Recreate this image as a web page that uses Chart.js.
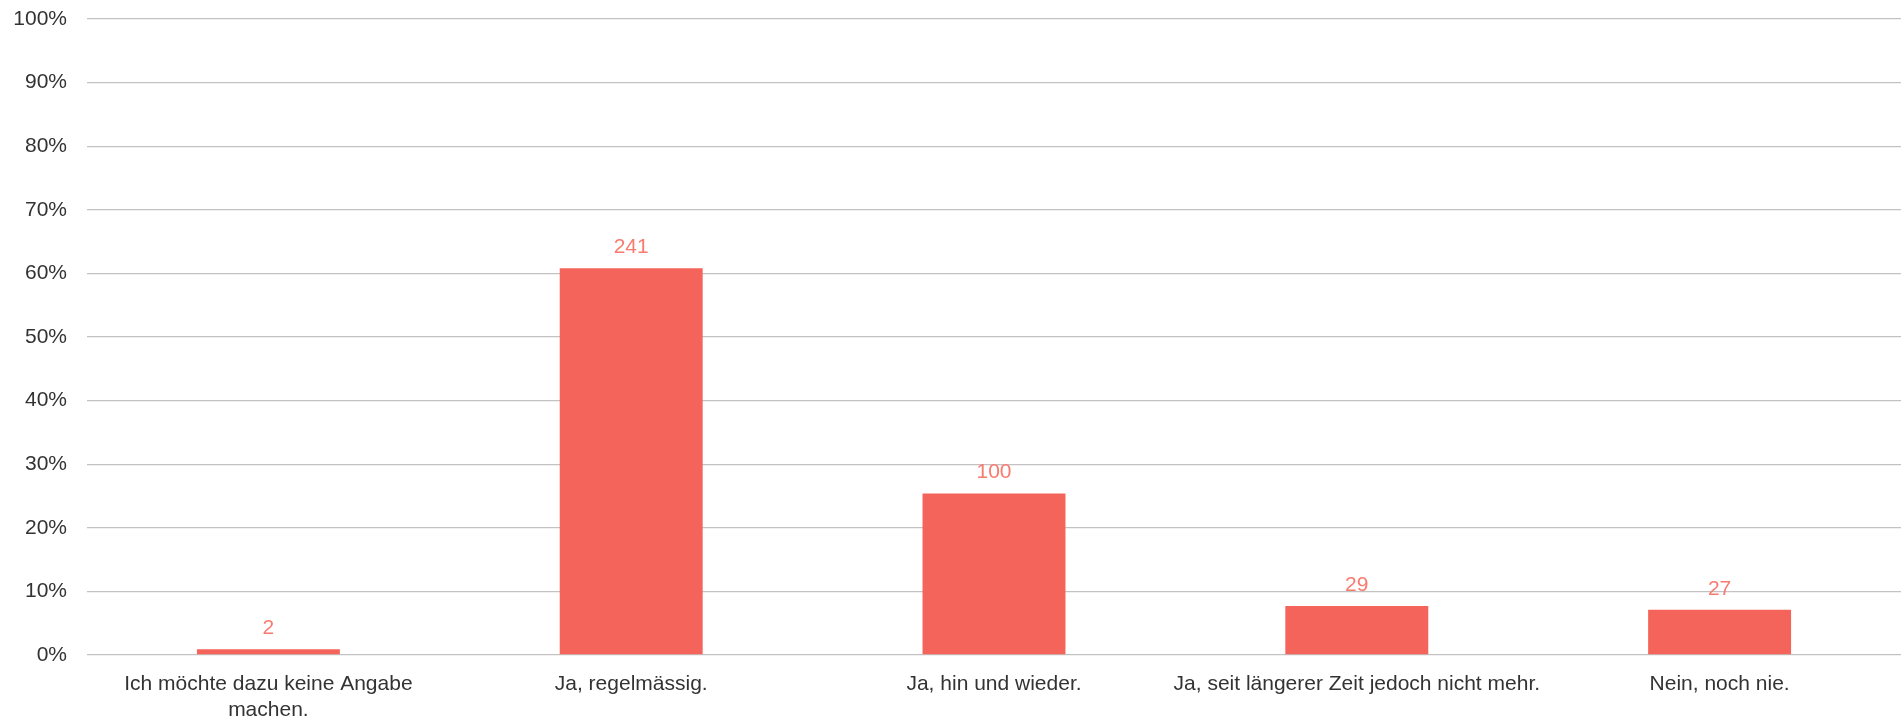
<!DOCTYPE html>
<html>
<head>
<meta charset="utf-8">
<script src="https://cdn.jsdelivr.net/npm/chart.js@4"></script>
<style>
html,body{margin:0;padding:0;background:#fff;}
#wrap{width:1901px;height:718px;}
</style>
</head>
<body>
<div id="wrap"><canvas id="c" width="1901" height="718"></canvas></div>
<script>
const categories = [
  ["Ich möchte dazu keine Angabe", "machen."],
  "Ja, regelmässig.",
  "Ja, hin und wieder.",
  "Ja, seit längerer Zeit jedoch nicht mehr.",
  "Nein, noch nie."
];
const percentValues = [0.9, 60.8, 25.4, 7.7, 7.1];
const countLabels = [2, 241, 100, 29, 27];
const yTickValues = [0, 10, 20, 30, 40, 50, 60, 70, 80, 90, 100];

const FONT = "'Liberation Sans', Arial, Helvetica, sans-serif";

const valueLabelPlugin = {
  id: 'valueLabels',
  afterDatasetsDraw(chart) {
    const ctx = chart.ctx;
    const meta = chart.getDatasetMeta(0);
    ctx.save();
    ctx.font = "21px " + FONT;
    ctx.fillStyle = "#f87b70";
    ctx.textAlign = "center";
    ctx.textBaseline = "middle";
    meta.data.forEach((bar, i) => {
      ctx.fillText(String(countLabels[i]), bar.x, bar.y - 21);
    });
    ctx.restore();
  }
};

new Chart(document.getElementById('c'), {
  type: 'bar',
  data: {
    labels: categories,
    datasets: [{
      data: percentValues,
      backgroundColor: '#f5645a',
      borderWidth: 0,
      categoryPercentage: 1,
      barPercentage: 0.394
    }]
  },
  options: {
    responsive: false,
    animation: false,
    layout: { padding: { top: 0, right: 0, left: 0, bottom: 0 } },
    plugins: { legend: { display: false }, tooltip: { enabled: false } },
    scales: {
      x: {
        grid: { display: false, drawTicks: false },
        border: { display: false },
        afterFit(axis) { axis.height = 63; },
        ticks: {
          color: '#333333',
          font: { family: FONT, size: 21, lineHeight: 1.2 },
          padding: 17,
          maxRotation: 0,
          autoSkip: false
        }
      },
      y: {
        min: 0,
        max: 100,
        afterBuildTicks(axis) { axis.ticks = yTickValues.map(v => ({ value: v })); },
        afterFit(axis) { axis.width = 87; axis.paddingTop = 19; axis.paddingBottom = 0; },
        grid: { color: '#c2c2c2', lineWidth: 1.3, drawTicks: false },
        border: { display: false },
        ticks: {
          color: '#333333',
          font: { family: FONT, size: 21 },
          padding: 20,
          callback: v => v + '%'
        }
      }
    }
  },
  plugins: [valueLabelPlugin]
});
</script>
</body>
</html>
